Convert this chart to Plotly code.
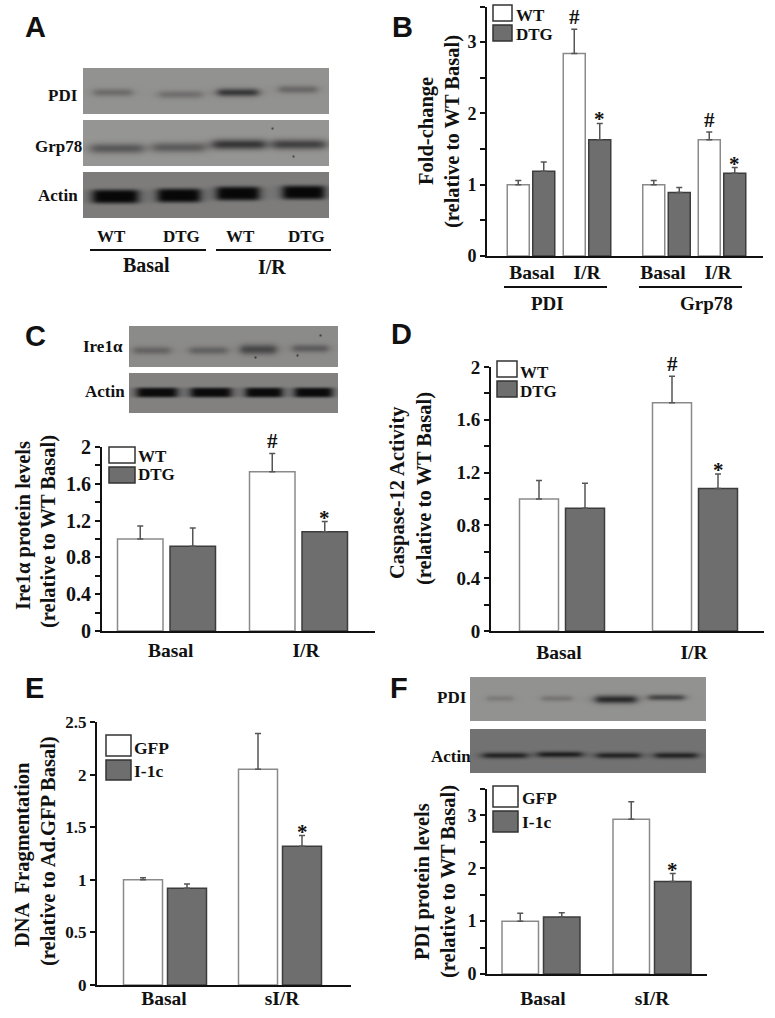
import numpy as np
import plotly.graph_objects as go

FIG_W = 775
FIG_H = 1018
SERIF = "Liberation Serif"
SANS = "Liberation Sans"

# --- bar values ---
pdi_grp_groups = ["Basal", "I/R", "Basal", "I/R"]
b_wt = [1.0, 2.84, 1.0, 1.63]
b_wt_err = [0.06, 0.34, 0.06, 0.11]
b_dtg = [1.19, 1.63, 0.89, 1.16]
b_dtg_err = [0.13, 0.23, 0.07, 0.08]

ire_groups = ["Basal", "I/R"]
c_wt = [1.0, 1.73]
c_wt_err = [0.14, 0.2]
c_dtg = [0.92, 1.08]
c_dtg_err = [0.2, 0.11]

casp_groups = ["Basal", "I/R"]
d_wt = [1.0, 1.73]
d_wt_err = [0.14, 0.2]
d_dtg = [0.93, 1.08]
d_dtg_err = [0.19, 0.11]

dna_groups = ["Basal", "sI/R"]
e_gfp = [1.0, 2.05]
e_gfp_err = [0.02, 0.34]
e_i1c = [0.92, 1.32]
e_i1c_err = [0.04, 0.1]

pdi_groups = ["Basal", "sI/R"]
f_gfp = [1.0, 2.93]
f_gfp_err = [0.15, 0.33]
f_i1c = [1.08, 1.75]
f_i1c_err = [0.08, 0.15]

# --- band darkness per lane on the blots ---
a_pdi_depth = [38, 34, 95, 42]
a_grp_depth = [62, 58, 100, 88]
a_actin_depth = [130, 130, 130, 130]
c_ire_depth = [40, 42, 72, 48]
c_actin_depth = [130, 130, 130, 130]
f_pdi_depth = [22, 28, 110, 78]
f_actin_depth = [85, 90, 85, 85]

fig = go.Figure()
annotations = []
shapes = []


def px_x(x):
    return x / FIG_W


def px_y(y):
    return 1 - y / FIG_H


def add_text(text, x, y, size=18, xanchor="center", angle=0, family=SERIF):
    # annotation boxes carry a little padding, so pull anchored text back onto x
    shift = {"left": -2.5, "right": 2.5, "center": 0}[xanchor]
    annotations.append(dict(
        text=text, x=px_x(x), y=px_y(y), xref="paper", yref="paper",
        showarrow=False, xanchor=xanchor, yanchor="middle", textangle=angle,
        xshift=shift,
        font=dict(family=family, size=size, color="#111111", weight="bold"),
    ))


def add_line(x0, x1, y, width=2):
    shapes.append(dict(
        type="line", xref="paper", yref="paper",
        x0=px_x(x0), x1=px_x(x1), y0=px_y(y), y1=px_y(y),
        line=dict(color="#111111", width=width),
    ))


def add_swatch(x0, x1, y0, y1, fill, edge):
    shapes.append(dict(
        type="rect", xref="paper", yref="paper",
        x0=px_x(x0), x1=px_x(x1), y0=px_y(y0), y1=px_y(y1),
        fillcolor=fill, line=dict(color=edge, width=1.5),
    ))


axis_count = 0


def next_axes():
    global axis_count
    axis_count += 1
    suffix = "" if axis_count == 1 else str(axis_count)
    return suffix


def add_blot(box, background, lanes, depth, specks=(), sharp=2):
    # a blot is a small grey heatmap: flat background with soft dark bands
    left, right, top, bottom = box
    xs = np.arange(left, right + 1)
    ys = np.arange(top, bottom + 1)
    xx, yy = np.meshgrid(xs, ys)
    z = np.full(xx.shape, float(background))
    for (x0, x1, cy, thick), d in zip(lanes, depth):
        cx = (x0 + x1) / 2
        hw = (x1 - x0) / 2
        z -= d / (1 + ((xx - cx) / hw) ** 8) * np.exp(-(np.abs((yy - cy) / thick) ** sharp))
    for sx, sy in specks:
        z -= 90 * np.exp(-((xx - sx) ** 2 + (yy - sy) ** 2) / 1.2)
    z = np.clip(z, 0, 255)
    s = next_axes()
    fig.add_trace(go.Heatmap(
        x=xs, y=ys, z=z, xaxis="x" + s, yaxis="y" + s,
        colorscale="gray", zmin=0, zmax=255, showscale=False,
        zsmooth="best", hoverinfo="skip",
    ))
    fig.layout["xaxis" + s] = dict(
        domain=[px_x(left), px_x(right)], range=[left, right], visible=False,
        anchor="y" + s, fixedrange=True,
    )
    fig.layout["yaxis" + s] = dict(
        domain=[px_y(bottom), px_y(top)], range=[bottom, top], visible=False,
        anchor="x" + s, fixedrange=True,
    )


def add_bars(geo, groups, first, first_err, second, second_err, names, marks):
    s = next_axes()
    period = geo["period"]
    c0 = geo["c0"]
    slots = [(c - c0) / period for c in geo["centres"]]
    width = geo["bar"] / period
    gap = geo["gap"] / period
    series = [
        (names[0], first, first_err, "white", "#8a8a8a", -width - gap / 2),
        (names[1], second, second_err, "#6e6e6e", "#3c3c3c", gap / 2),
    ]
    for name, vals, errs, fill, edge, offset in series:
        fig.add_trace(go.Bar(
            x=slots, y=vals, name=name, width=width, offset=offset,
            xaxis="x" + s, yaxis="y" + s, showlegend=False,
            marker=dict(color=fill, line=dict(color=edge, width=1.5)),
            error_y=dict(type="data", symmetric=False, array=errs,
                         arrayminus=[0] * len(errs), color="#555555",
                         thickness=1.5, width=3),
        ))
    fig.layout["xaxis" + s] = dict(
        domain=[px_x(geo["left"]), px_x(geo["right"])],
        range=[(geo["left"] - c0) / period, (geo["right"] - c0) / period],
        anchor="y" + s, showgrid=False, zeroline=False, fixedrange=True,
        showline=True, linecolor="#111111", linewidth=2, ticks="",
        tickvals=[(p - c0) / period for p in geo["labels"]], ticktext=groups,
        ticklabelstandoff=geo["standoff"],
        tickfont=dict(family=SERIF, size=19.5, color="#111111", weight="bold"),
    )
    fig.layout["yaxis" + s] = dict(
        domain=[px_y(geo["y0"]), px_y(geo["ytop"])],
        range=[0, geo["ymax"]], anchor="x" + s, showgrid=False, zeroline=False,
        fixedrange=True, showline=True, linecolor="#111111", linewidth=2,
        ticks="outside", ticklen=5, tickwidth=1.5, tickcolor="#111111",
        tickvals=geo["yticks"], ticktext=geo["yticktext"],
        minor=dict(tickvals=geo["yminor"], ticks="outside", ticklen=5,
                   tickwidth=1.5, tickcolor="#111111"),
        tickfont=dict(family=SERIF, size=geo["yfont"], color="#111111", weight="bold"),
    )
    # significance marks sit on top of the error bars
    for slot_i, which, symbol in marks:
        vals, errs, offset = (first, first_err, -width - gap / 2) if which == 0 else (second, second_err, gap / 2)
        annotations.append(dict(
            text=symbol, x=slots[slot_i] + offset + width / 2, y=vals[slot_i] + errs[slot_i],
            xref="x" + s, yref="y" + s, showarrow=False, yanchor="bottom",
            yshift=-2 if symbol == "#" else -10,
            font=dict(family=SERIF, size=21, color="#111111", weight="bold"),
        ))


# --- Panel A ---
add_text("A", 35, 27, size=29, family=SANS)
add_blot((83, 329, 68, 114), 162,
         [(93, 132, 92, 4), (158, 202, 94, 4), (217, 258, 92, 4), (278, 317, 89, 4)], a_pdi_depth)
add_blot((83, 329, 120, 166), 165,
         [(90, 143, 148, 5), (152, 205, 147, 5), (212, 265, 144, 5), (272, 325, 144, 5)], a_grp_depth,
         specks=[(272, 128), (293, 156)])
add_blot((83, 329, 172, 218), 140,
         [(92, 138, 196, 7), (157, 200, 195, 7), (216, 259, 193, 7), (282, 324, 192, 7)],
         a_actin_depth, sharp=4)
add_text("PDI", 77, 96, size=17, xanchor="right")
add_text("Grp78", 81, 146, size=17, xanchor="right")
add_text("Actin", 77, 195, size=17, xanchor="right")
for label, x in zip(["WT", "DTG", "WT", "DTG"], [111, 181, 240, 306]):
    add_text(label, x, 236, size=17)
add_line(90, 206, 250)
add_line(216, 331, 250)
add_text("Basal", 146, 265, size=20)
add_text("I/R", 272, 267, size=20)

# --- Panel B ---
add_text("B", 402, 27, size=29, family=SANS)
add_bars(
    dict(left=487, right=763, y0=256, ytop=6.5, ymax=3.5, c0=531, period=56,
         centres=[531, 587, 666.5, 722], labels=[532, 587, 663, 718],
         bar=22, gap=3.5, standoff=-2, yfont=18,
         yticks=[0, 1, 2, 3], yticktext=["0", "1", "2", "3"], yminor=[0.5, 1.5, 2.5, 3.5]),
    pdi_grp_groups, b_wt, b_wt_err, b_dtg, b_dtg_err, ["WT", "DTG"],
    [(1, 0, "#"), (1, 1, "*"), (3, 0, "#"), (3, 1, "*")],
)
add_swatch(493, 512, 5, 21, "white", "#333333")
add_swatch(493, 512, 25, 41, "#6e6e6e", "#333333")
add_text("WT", 516, 15, size=17, xanchor="left")
add_text("DTG", 516, 34, size=17, xanchor="left")
add_text("Fold-change", 427, 131, size=20.5, angle=-90)
add_text("(relative to WT Basal)", 453, 131, size=20.5, angle=-90)
add_line(504, 607, 287)
add_line(639, 742, 287)
add_text("PDI", 547, 303, size=19)
add_text("Grp78", 706, 303, size=19)

# --- Panel C ---
add_text("C", 35, 336, size=29, family=SANS)
add_blot((129, 338, 326, 367), 155,
         [(133, 170, 350, 4), (189, 227, 350, 4), (240, 276, 349, 5), (292, 328, 348, 4)], c_ire_depth,
         specks=[(320, 335), (255, 357), (297, 355)])
add_blot((129, 338, 373, 413), 145,
         [(136, 177, 392, 5), (190, 231, 392, 5), (245, 282, 392, 5), (294, 332, 392, 5)],
         c_actin_depth, sharp=4)
add_text("Ire1α", 122, 347, size=17, xanchor="right")
add_text("Actin", 124, 392, size=17, xanchor="right")
add_bars(
    dict(left=102, right=375, y0=631, ytop=447, ymax=2, c0=166.5, period=132,
         centres=[166.5, 298.5], labels=[170.7, 306],
         bar=45.5, gap=7, standoff=1, yfont=20,
         yticks=[0, 0.4, 0.8, 1.2, 1.6, 2], yticktext=["0", "0.4", "0.8", "1.2", "1.6", "2"],
         yminor=[0.2, 0.6, 1.0, 1.4, 1.8]),
    ire_groups, c_wt, c_wt_err, c_dtg, c_dtg_err, ["WT", "DTG"],
    [(1, 0, "#"), (1, 1, "*")],
)
add_swatch(109, 135, 447, 463, "white", "#333333")
add_swatch(109, 135, 467, 483, "#6e6e6e", "#333333")
add_text("WT", 138, 457, size=17, xanchor="left")
add_text("DTG", 138, 475, size=17, xanchor="left")
add_text("Ire1α protein levels", 23, 526, size=20.5, angle=-90)
add_text("(relative to WT Basal)", 48, 532, size=20.5, angle=-90)

# --- Panel D ---
add_text("D", 401, 334, size=29, family=SANS)
add_bars(
    dict(left=491, right=764, y0=631, ytop=367, ymax=2, c0=562, period=133,
         centres=[562, 695], labels=[559, 694],
         bar=39, gap=7, standoff=3, yfont=19,
         yticks=[0, 0.4, 0.8, 1.2, 1.6, 2], yticktext=["0", "0.4", "0.8", "1.2", "1.6", "2"],
         yminor=[0.2, 0.6, 1.0, 1.4, 1.8]),
    casp_groups, d_wt, d_wt_err, d_dtg, d_dtg_err, ["WT", "DTG"],
    [(1, 0, "#"), (1, 1, "*")],
)
add_swatch(497, 517, 361, 377, "white", "#333333")
add_swatch(497, 517, 381, 397, "#6e6e6e", "#333333")
add_text("WT", 520, 372, size=17, xanchor="left")
add_text("DTG", 520, 391, size=17, xanchor="left")
add_text("Caspase-12 Activity", 397, 492, size=20.5, angle=-90)
add_text("(relative to WT Basal)", 424, 489, size=20.5, angle=-90)

# --- Panel E ---
add_text("E", 34, 688, size=29, family=SANS)
add_bars(
    dict(left=97, right=351, y0=985, ytop=722, ymax=2.5, c0=165, period=115,
         centres=[165, 280], labels=[164, 282],
         bar=39, gap=5, standoff=-5, yfont=17,
         yticks=[0, 0.5, 1, 1.5, 2, 2.5], yticktext=["0", "0.5", "1", "1.5", "2", "2.5"],
         yminor=[]),
    dna_groups, e_gfp, e_gfp_err, e_i1c, e_i1c_err, ["GFP", "I-1c"],
    [(1, 1, "*")],
)
add_swatch(106, 131, 735, 756, "white", "#333333")
add_swatch(106, 131, 760, 780, "#6e6e6e", "#333333")
add_text("GFP", 134, 748, size=17.5, xanchor="left")
add_text("I-1c", 134, 771, size=17.5, xanchor="left")
add_text("DNA  Fragmentation", 22, 855, size=20.5, angle=-90)
add_text("(relative to Ad.GFP Basal)", 48, 851, size=20.5, angle=-90)

# --- Panel F ---
add_text("F", 399, 688, size=29, family=SANS)
add_blot((470, 706, 677, 721), 162,
         [(486, 513, 698, 3), (541, 572, 698, 3), (595, 636, 699, 4), (648, 684, 697, 3)], f_pdi_depth)
add_blot((470, 706, 729, 773), 130,
         [(482, 527, 755, 3), (537, 582, 754, 3), (596, 640, 755, 3), (654, 697, 755, 3)], f_actin_depth)
add_text("PDI", 467, 697, size=17, xanchor="right")
add_text("Actin", 470, 756, size=17, xanchor="right")
add_bars(
    dict(left=487, right=707, y0=974, ytop=789, ymax=3.5, c0=541, period=113,
         centres=[541, 652], labels=[543, 652],
         bar=36.5, gap=5, standoff=6, yfont=18,
         yticks=[0, 1, 2, 3], yticktext=["0", "1", "2", "3"], yminor=[0.5, 1.5, 2.5, 3.5]),
    pdi_groups, f_gfp, f_gfp_err, f_i1c, f_i1c_err, ["GFP", "I-1c"],
    [(1, 1, "*")],
)
add_swatch(493, 518, 786, 807, "white", "#333333")
add_swatch(493, 518, 811, 832, "#6e6e6e", "#333333")
add_text("GFP", 522, 798, size=17.5, xanchor="left")
add_text("I-1c", 522, 822, size=17.5, xanchor="left")
add_text("PDI protein levels", 422, 882, size=20.5, angle=-90)
add_text("(relative to WT Basal)", 448, 882, size=20.5, angle=-90)

# --- Layout ---
fig.update_layout(
    width=FIG_W,
    height=FIG_H,
    margin=dict(t=0, b=0, l=0, r=0, autoexpand=False),
    plot_bgcolor="white",
    paper_bgcolor="white",
    showlegend=False,
    annotations=annotations,
    shapes=shapes,
)

# the default page keeps the browser's body margin, which would shift the chart
fig.write_html(
    "out.html",
    config={"displayModeBar": False},
    post_script="document.body.style.margin='0';document.body.style.overflow='hidden';",
)
